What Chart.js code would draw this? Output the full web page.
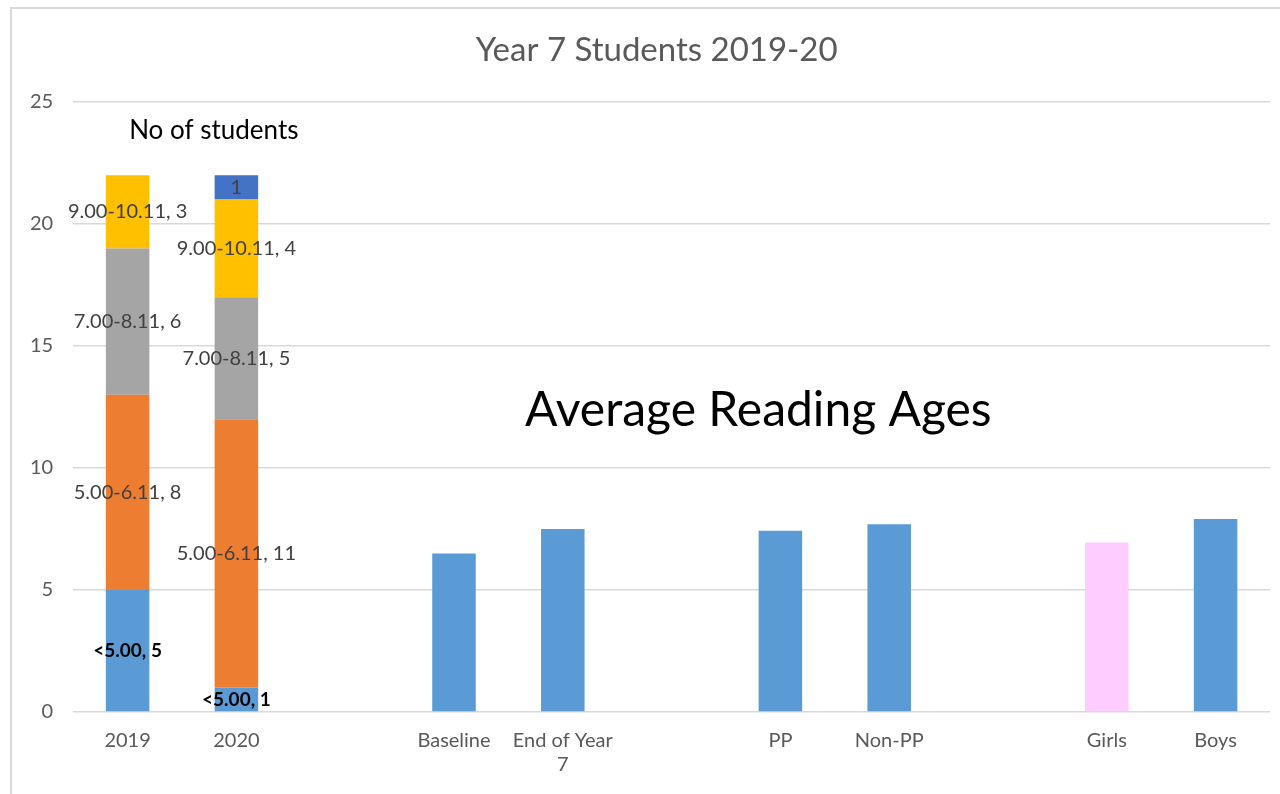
<!DOCTYPE html>
<html>
<head>
<meta charset="utf-8">
<script src="https://cdn.jsdelivr.net/npm/chart.js@4.4.1/dist/chart.umd.min.js"></script>
<style>
  body { margin: 0; background: #fff; overflow: hidden; }
  #frame { position: absolute; left: 10px; top: 7px; width: 1300px; height: 820px;
           border-left: 2px solid #d9d9d9; border-top: 2px solid #d9d9d9; }
  #chart { position: absolute; left: 0; top: 0; }
</style>
</head>
<body>
<div id="frame"></div>
<canvas id="chart" width="1280" height="794"></canvas>
<script>
// categories (empty strings are the gaps between groups)
const categories = ["2019", "2020", "", "Baseline", ["End of Year", "7"], "", "PP", "Non-PP", "", "Girls", "Boys"];

// number of students per reading age band (2019, 2020)
const bandNames = ["<5.00", "5.00-6.11", "7.00-8.11", "9.00-10.11", "11.00+"];
const bandUnder5 = [5, 1, null, null, null, null, null, null, null, null, null];
const band5to6 = [8, 11, null, null, null, null, null, null, null, null, null];
const band7to8 = [6, 5, null, null, null, null, null, null, null, null, null];
const band9to10 = [3, 4, null, null, null, null, null, null, null, null, null];
const band11plus = [null, 1, null, null, null, null, null, null, null, null, null];

// average reading ages
const averageAges = [null, null, null, 6.5, 7.5, null, 7.43, 7.69, null, 6.95, 7.91];

const yTicks = [0, 5, 10, 15, 20, 25];

const FONT = "Lato, 'Open Sans', sans-serif";
const bandColors = ["#5b9bd5", "#ed7d31", "#a5a5a5", "#ffc000", "#4472c4"];
const avgColors = averageAges.map((v, i) => categories[i] === "Girls" ? "#ffccff" : "#5b9bd5");

const bandData = [bandUnder5, band5to6, band7to8, band9to10, band11plus];
const datasets = bandData.map((d, i) => ({
    label: bandNames[i],
    data: d,
    backgroundColor: bandColors[i],
    showName: i < 4,
    boldLabel: i === 0
}));
datasets.push({
    label: "Average Reading Ages",
    data: averageAges,
    backgroundColor: avgColors,
    noLabels: true
});

const labelPlugin = {
    id: "barLabels",
    afterDatasetsDraw(chart) {
        const ctx = chart.ctx;
        ctx.save();
        ctx.textAlign = "center";
        ctx.textBaseline = "middle";
        chart.data.datasets.forEach((ds, di) => {
            if (ds.noLabels) return;
            const meta = chart.getDatasetMeta(di);
            meta.data.forEach((el, i) => {
                const v = ds.data[i];
                if (v === null || v === undefined) return;
                const txt = ds.showName ? ds.label + ", " + v : String(v);
                if (ds.boldLabel) {
                    ctx.font = "bold 19px " + FONT;
                    ctx.fillStyle = "#000";
                } else {
                    ctx.font = "20px " + FONT;
                    ctx.fillStyle = "#404040";
                }
                ctx.fillText(txt, el.x, (el.y + el.base) / 2);
            });
        });
        ctx.restore();
    }
};

// title and the two free text boxes
const notesPlugin = {
    id: "notes",
    afterDraw(chart) {
        const ctx = chart.ctx;
        const a = chart.chartArea;
        const w = a.right - a.left, h = a.bottom - a.top;
        ctx.save();
        ctx.textAlign = "center";
        ctx.textBaseline = "middle";
        ctx.fillStyle = "#595959";
        ctx.font = "33px " + FONT;
        ctx.fillText("Year 7 Students 2019-20", a.left + w * 0.4875, 50);
        ctx.fillStyle = "#000";
        ctx.font = "26px " + FONT;
        ctx.fillText("No of students", a.left + w * 0.1175, a.top + h * 0.0475);
        ctx.font = "48px " + FONT;
        ctx.fillText("Average Reading Ages", a.left + w * 0.5725, a.top + h * 0.505);
        ctx.restore();
    }
};

new Chart(document.getElementById("chart").getContext("2d"), {
    type: "bar",
    data: { labels: categories, datasets: datasets },
    options: {
        responsive: false,
        animation: false,
        datasets: { bar: { barPercentage: 0.4, categoryPercentage: 1 } },
        layout: { padding: { left: 10, right: 10, top: 102, bottom: 0 } },
        scales: {
            x: {
                stacked: true,
                grid: { display: false, drawTicks: false },
                border: { display: false },
                ticks: { color: "#595959", font: { family: FONT, size: 20 }, padding: 17, maxRotation: 0, autoSkip: false }
            },
            y: {
                stacked: true,
                min: 0, max: 25,
                afterBuildTicks(axis) { axis.ticks = yTicks.map(v => ({ value: v })); },
                grid: { color: "#d9d9d9", lineWidth: 1.5, drawTicks: false },
                border: { display: false },
                ticks: { color: "#595959", font: { family: FONT, size: 20 }, padding: 20 }
            }
        },
        plugins: {
            legend: { display: false },
            tooltip: { enabled: false },
            title: { display: false }
        }
    },
    plugins: [labelPlugin, notesPlugin]
});
</script>
</body>
</html>
